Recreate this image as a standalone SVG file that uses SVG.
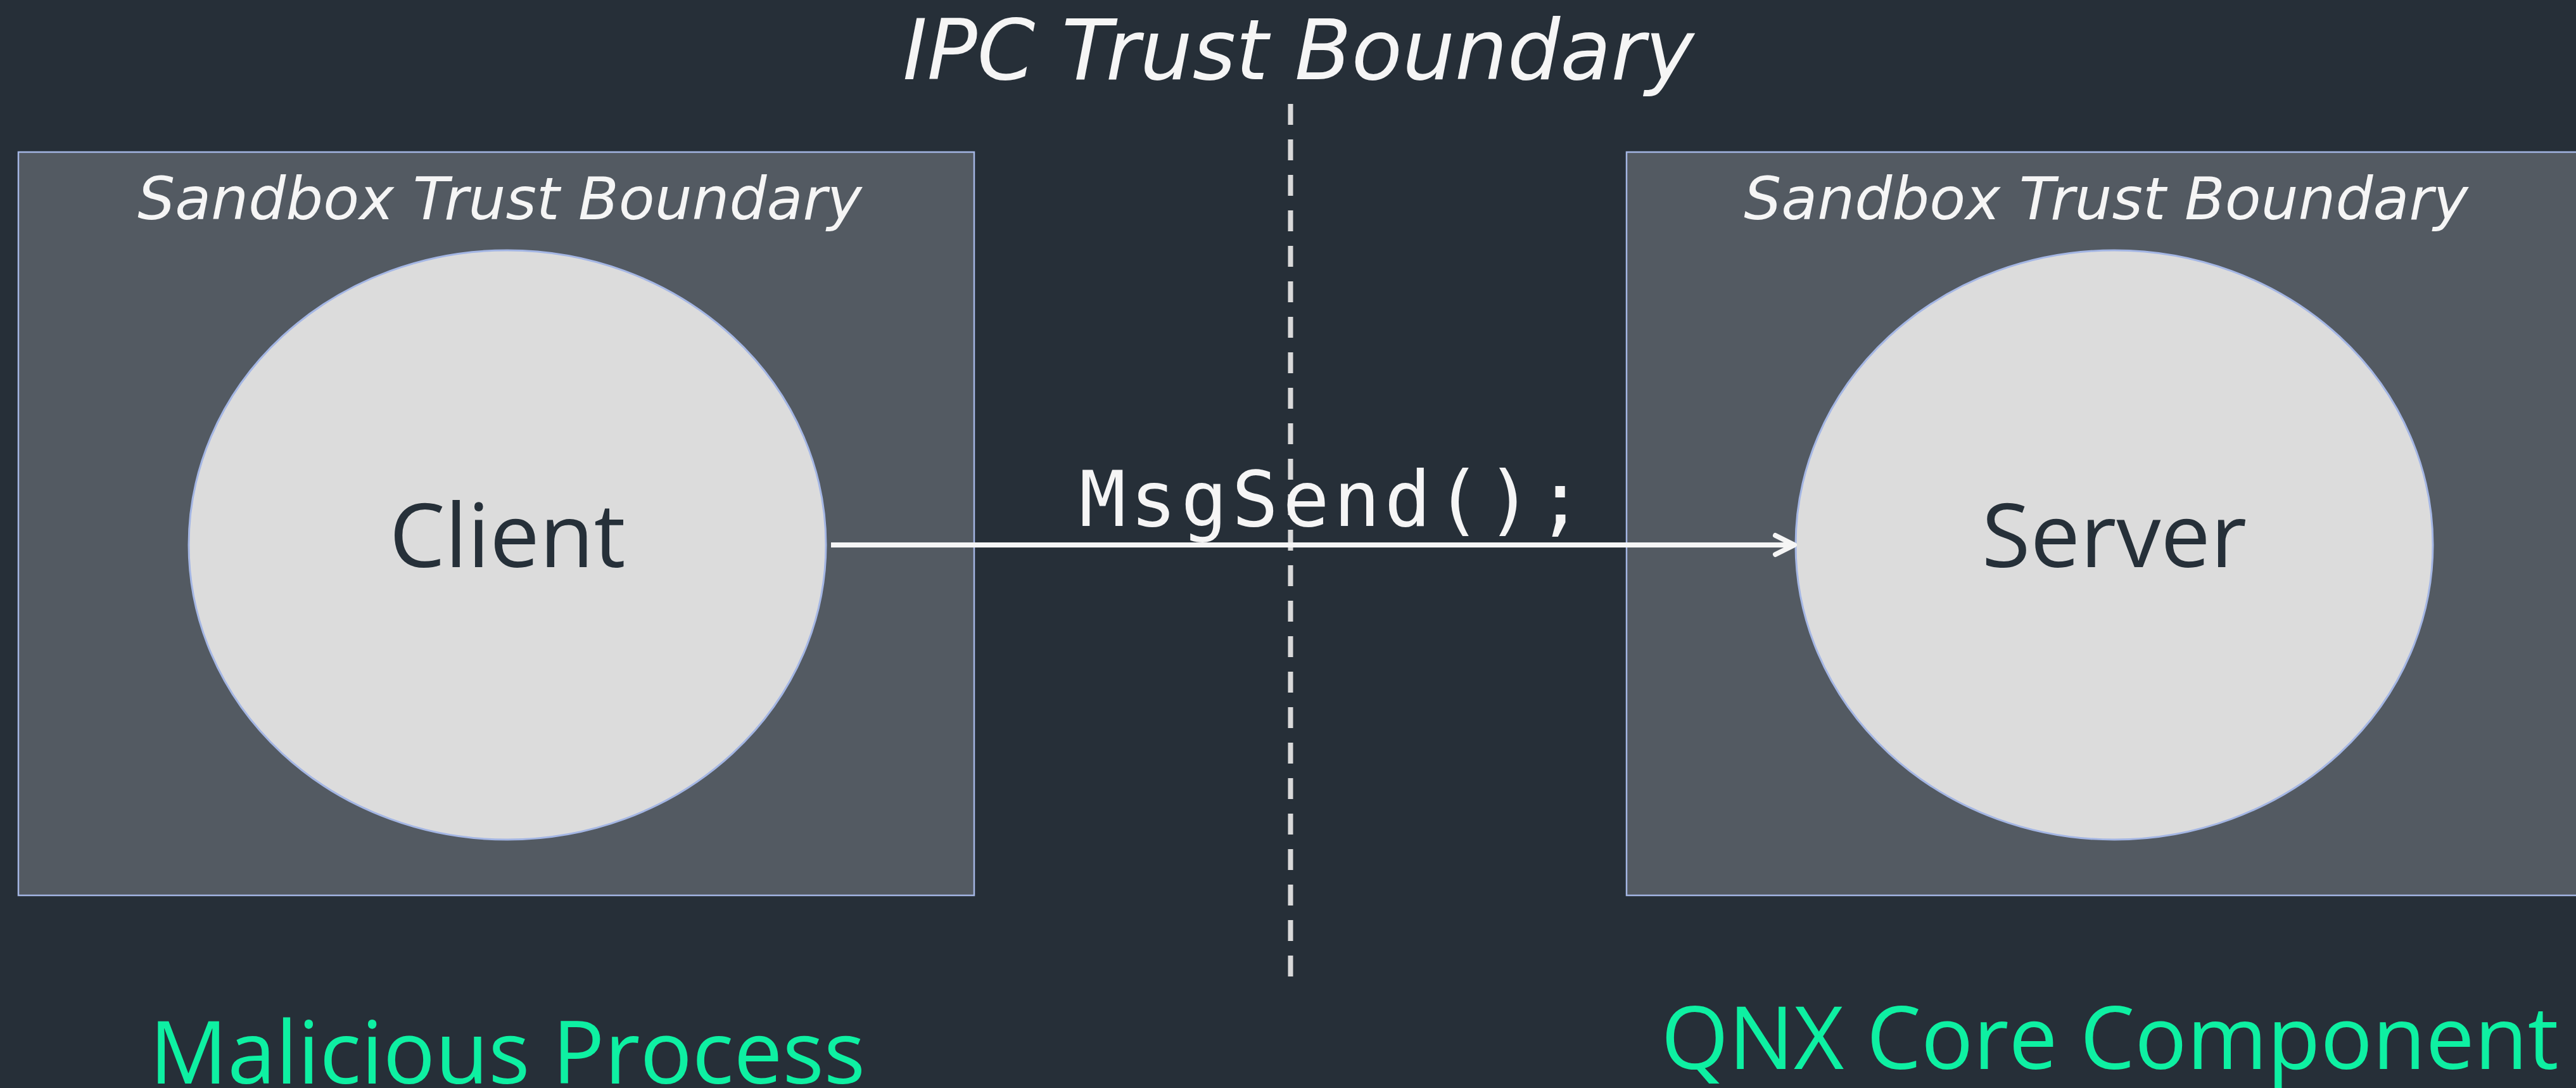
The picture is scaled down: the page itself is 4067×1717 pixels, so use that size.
<svg xmlns="http://www.w3.org/2000/svg" width="4067" height="1717" viewBox="0 0 4067 1717">
  <defs>
    <style>
      .bg { fill: #262f38; }
      .zone { fill: #535a62; stroke: #a4b6e4; stroke-width: 2.5; }
      .proc { fill: #dcdcdc; stroke: #a4b6e4; stroke-width: 3; }
      .zone-label { font-family: "DejaVu Sans", "Open Sans", sans-serif; font-style: oblique; font-size: 93px; fill: #f5f5f5; text-anchor: middle; }
      .title { font-family: "DejaVu Sans", "Open Sans", sans-serif; font-style: oblique; font-size: 131px; fill: #f5f5f5; text-anchor: middle; }
      .proc-label { font-family: "Open Sans", "DejaVu Sans", sans-serif; font-size: 140px; fill: #263039; text-anchor: middle; }
      .caption { font-family: "Open Sans", "DejaVu Sans", sans-serif; font-size: 137px; fill: #0ef0a2; text-anchor: middle; }
      .code { font-family: "DejaVu Sans Mono", "Liberation Mono", monospace; font-size: 122px; fill: #f5f5f5; }
      .boundary { stroke: #d9d9d9; stroke-width: 8; stroke-dasharray: 33 23; fill: none; }
      .flow { stroke: #f5f5f5; stroke-width: 8; fill: none; }
      .flow-head { stroke: #f5f5f5; stroke-width: 8; fill: none; stroke-linecap: round; stroke-linejoin: round; }
    </style>
  </defs>

  <rect class="bg" x="0" y="0" width="4067" height="1717"/>

  <!-- IPC trust boundary -->
  <g id="ipc-boundary">
    <text class="title" x="2050" y="125">IPC Trust Boundary</text>
    <line class="boundary" x1="2037.5" y1="164" x2="2037.5" y2="1541"/>
  </g>

  <!-- Client sandbox -->
  <g id="client-sandbox">
    <rect class="zone" x="29" y="240" width="1509" height="1173"/>
    <text class="zone-label" x="789" y="346">Sandbox Trust Boundary</text>
  </g>

  <!-- Server sandbox -->
  <g id="server-sandbox">
    <rect class="zone" x="2568" y="240" width="1509" height="1173"/>
    <text class="zone-label" x="3325" y="346">Sandbox Trust Boundary</text>
  </g>

  <g id="client">
    <ellipse class="proc" cx="801" cy="860" rx="503" ry="465"/>
    <text class="proc-label" x="801" y="895">Client</text>
  </g>

  <g id="server">
    <ellipse class="proc" cx="3338" cy="860" rx="503" ry="465"/>
    <text class="proc-label" x="3338" y="895">Server</text>
  </g>

  <!-- Message flow -->
  <g id="connectors">
    <line class="flow" x1="1312" y1="860" x2="2833" y2="860"/>
    <polyline class="flow-head" points="2803,845 2833,860 2803,875"/>
    <text class="code" x="1704" y="830" textLength="796" lengthAdjust="spacing">MsgSend();</text>
  </g>

  <g id="captions">
    <text class="caption" x="801" y="1710">Malicious Process</text>
    <text class="caption" x="3331" y="1687">QNX Core Component</text>
  </g>
</svg>
